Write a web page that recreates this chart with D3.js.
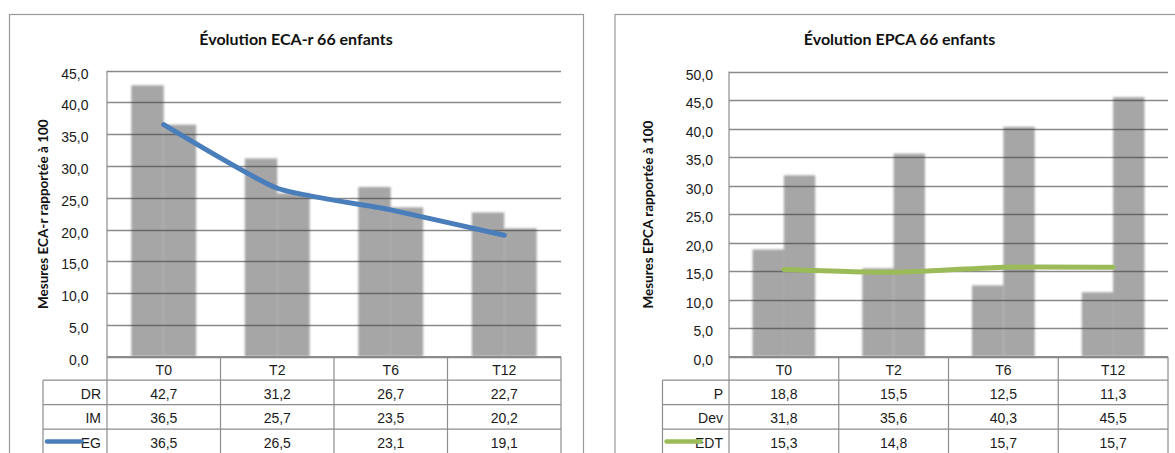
<!DOCTYPE html>
<html lang="fr">
<head>
<meta charset="UTF-8">
<title>Évolution ECA-r / EPCA 66 enfants</title>
<script src="https://cdn.jsdelivr.net/npm/d3@7"></script>
<style>
    body, html {
        margin: 0;
        padding: 0;
        background: #ffffff;
        overflow: hidden;
    }
    svg { display: block; }
    .num { font-family: "Liberation Sans", Arial, sans-serif; font-size: 14px; fill: #1a1a1a; }
    .title { font-family: Lato, "Open Sans", sans-serif; font-weight: bold; font-size: 16px; fill: #111; }
    .ylab { font-family: Lato, "Open Sans", sans-serif; font-weight: bold; font-size: 13.5px; fill: #111; }
</style>
</head>
<body>
<svg id="chart" width="1175" height="453"></svg>
<script>
// data
const categories = ["T0", "T2", "T6", "T12"];

const ecaDR = [42.7, 31.2, 26.7, 22.7];
const ecaIM = [36.5, 25.7, 23.5, 20.2];
const ecaEG = [36.5, 26.5, 23.1, 19.1];
const ecaTicks = [0, 5, 10, 15, 20, 25, 30, 35, 40, 45];

const epcaP = [18.8, 15.5, 12.5, 11.3];
const epcaDev = [31.8, 35.6, 40.3, 45.5];
const epcaEDT = [15.3, 14.8, 15.7, 15.7];
const epcaTicks = [0, 5, 10, 15, 20, 25, 30, 35, 40, 45, 50];

const fmt = d => d.toFixed(1).replace(".", ",");

const svg = d3.select("#chart");

// soft edges on the bars, like the original export
svg.append("defs").append("filter")
    .attr("id", "soft")
    .attr("x", "-10%").attr("y", "-10%").attr("width", "120%").attr("height", "120%")
    .append("feGaussianBlur").attr("stdDeviation", 0.8);

function drawChart(cfg) {
    const g = svg.append("g");

    // outer frame
    g.append("rect")
        .attr("x", cfg.frameLeft + 0.5).attr("y", 14.5)
        .attr("width", cfg.frameRight - cfg.frameLeft).attr("height", 480)
        .attr("fill", "none").attr("stroke", "#9a9a9a").attr("stroke-width", 1.2);

    g.append("text").attr("class", "title")
        .attr("x", (cfg.frameLeft + cfg.frameRight) / 2).attr("y", 45)
        .attr("text-anchor", "middle")
        .text(cfg.title);

    const x = d3.scaleBand().domain(categories).range([cfg.plotLeft, cfg.plotRight]);
    const xs = d3.scaleBand().domain(["a", "b"]).range([0, x.bandwidth()]).paddingOuter(0.75);
    const y = d3.scaleLinear().domain([0, d3.max(cfg.ticks)]).range([cfg.plotBottom, cfg.plotTop]);

    // bars
    const bars = g.append("g").attr("filter", "url(#soft)");
    [["a", cfg.barsA], ["b", cfg.barsB]].forEach(([key, vals]) => {
        bars.selectAll(null)
            .data(categories)
            .enter().append("rect")
            .attr("x", (c) => x(c) + xs(key))
            .attr("width", xs.bandwidth())
            .attr("y", (c, i) => y(vals[i]))
            .attr("height", (c, i) => y(0) - y(vals[i]))
            .attr("fill", "#a6a6a6");
    });

    // gridlines over the bars
    g.append("g").selectAll("line")
        .data(cfg.ticks)
        .enter().append("line")
        .attr("x1", cfg.plotLeft).attr("x2", cfg.plotRight)
        .attr("y1", d => Math.round(y(d)) + 0.5).attr("y2", d => Math.round(y(d)) + 0.5)
        .attr("stroke", "rgba(60,60,60,0.6)")
        .attr("stroke-width", 1.3);

    // y axis labels
    g.append("g").selectAll("text")
        .data(cfg.ticks)
        .enter().append("text")
        .attr("class", "num")
        .attr("x", cfg.tickX).attr("y", d => y(d) + 8)
        .attr("text-anchor", "end")
        .text(fmt);

    g.append("text").attr("class", "ylab")
        .attr("transform", `translate(${cfg.frameLeft + 38.5},${(cfg.plotTop + cfg.plotBottom) / 2 + 0.5}) rotate(-90)`)
        .attr("text-anchor", "middle")
        .text(cfg.yLabel);

    // data table
    const rowH = 24.5;
    const headTop = cfg.plotBottom, headBottom = cfg.plotBottom + 23.5;
    const tableBottom = headBottom + rowH * 3;
    const tbl = g.append("g").attr("stroke", "#8c8c8c").attr("stroke-width", 1.2);

    tbl.append("line").attr("x1", cfg.plotLeft).attr("x2", cfg.plotLeft).attr("y1", cfg.plotTop).attr("y2", tableBottom);
    tbl.append("line").attr("x1", cfg.tableLeft).attr("x2", cfg.tableLeft).attr("y1", headBottom).attr("y2", tableBottom);
    categories.forEach(c => {
        tbl.append("line").attr("x1", x(c) + x.bandwidth()).attr("x2", x(c) + x.bandwidth())
            .attr("y1", headTop).attr("y2", tableBottom);
    });
    tbl.append("line").attr("x1", cfg.plotLeft).attr("x2", cfg.plotRight).attr("y1", headTop).attr("y2", headTop);
    [0, 1, 2].forEach(r => {
        const yy = headBottom + r * rowH;
        tbl.append("line").attr("x1", cfg.tableLeft).attr("x2", cfg.plotRight).attr("y1", yy).attr("y2", yy);
    });

    g.append("g").selectAll("text")
        .data(categories)
        .enter().append("text")
        .attr("class", "num")
        .attr("x", c => x(c) + x.bandwidth() / 2).attr("y", (headTop + headBottom) / 2 + 6.5)
        .attr("text-anchor", "middle")
        .text(c => c);

    cfg.rows.forEach((row, r) => {
        const cy = headBottom + r * rowH + rowH / 2;
        g.append("text").attr("class", "num")
            .attr("x", cfg.plotLeft - 6).attr("y", cy + 6.5)
            .attr("text-anchor", "end")
            .text(row.name);
        if (row.line) {
            g.append("line")
                .attr("x1", cfg.tableLeft + 4).attr("x2", cfg.tableLeft + 38)
                .attr("y1", cy).attr("y2", cy)
                .attr("stroke", row.line).attr("stroke-width", 4.5).attr("stroke-linecap", "round");
        }
        g.append("g").selectAll("text")
            .data(row.values)
            .enter().append("text")
            .attr("class", "num")
            .attr("x", (d, i) => x(categories[i]) + x.bandwidth() / 2).attr("y", cy + 6.5)
            .attr("text-anchor", "middle")
            .text(fmt);
    });

    // line series (smoothed, Excel style)
    const line = d3.line()
        .x((d, i) => x(categories[i]) + x.bandwidth() / 2)
        .y(d => y(d))
        .curve(d3.curveCardinal.tension(0.5));
    g.append("path")
        .datum(cfg.lineVals)
        .attr("d", line)
        .attr("fill", "none")
        .attr("stroke", cfg.lineColor)
        .attr("stroke-width", 5)
        .attr("stroke-linecap", "round")
        .attr("stroke-linejoin", "round");
}

drawChart({
    title: "Évolution ECA-r 66 enfants",
    yLabel: "Mesures ECA-r rapportée à 100",
    frameLeft: 9, frameRight: 583,
    plotLeft: 107, plotRight: 561, plotTop: 70.7, plotBottom: 356.7,
    tableLeft: 43, tickX: 88.5,
    ticks: ecaTicks,
    barsA: ecaDR, barsB: ecaIM,
    lineVals: ecaEG, lineColor: "#4a7ebb",
    rows: [
        { name: "DR", values: ecaDR },
        { name: "IM", values: ecaIM },
        { name: "EG", values: ecaEG, line: "#4a7ebb" }
    ]
});

drawChart({
    title: "Évolution EPCA 66 enfants",
    yLabel: "Mesures EPCA rapportée à 100",
    frameLeft: 614.5, frameRight: 1184.5,
    plotLeft: 729, plotRight: 1168, plotTop: 71.5, plotBottom: 356.7,
    tableLeft: 662.5, tickX: 713,
    ticks: epcaTicks,
    barsA: epcaP, barsB: epcaDev,
    lineVals: epcaEDT, lineColor: "#9bbb59",
    rows: [
        { name: "P", values: epcaP },
        { name: "Dev", values: epcaDev },
        { name: "EDT", values: epcaEDT, line: "#9bbb59" }
    ]
});
</script>
</body>
</html>
